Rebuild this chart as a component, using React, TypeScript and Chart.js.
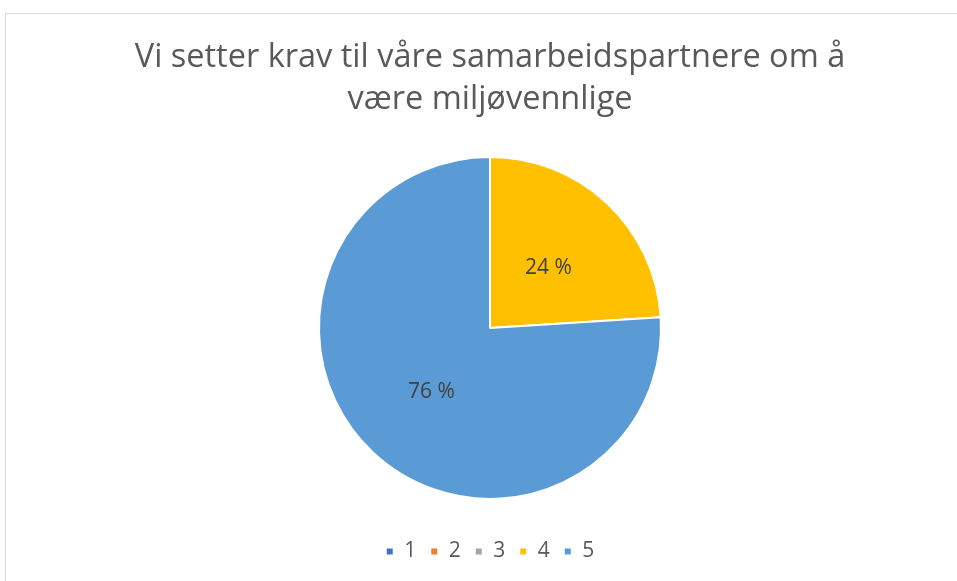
import React, { useEffect, useRef } from "react";
import { Chart, registerables } from "chart.js";

Chart.register(...registerables);

const titleLines = ["Vi setter krav til våre samarbeidspartnere om å", "være miljøvennlige"];
const categories = ["1", "2", "3", "4", "5"];
const percentValues = [0, 0, 0, 24, 76];
const sliceColors = ["#4472C4", "#ED7D31", "#A5A5A5", "#FFC000", "#5B9BD5"];

const FONT = "'Open Sans', Lato, sans-serif";

const dataLabelPlugin = {
  id: "dataLabels",
  afterDatasetsDraw(chart: any) {
    const ctx = chart.ctx;
    const meta = chart.getDatasetMeta(0);
    const values = chart.data.datasets[0].data as number[];
    ctx.save();
    ctx.font = `21px ${FONT}`;
    ctx.fillStyle = "#404040";
    ctx.textAlign = "center";
    ctx.textBaseline = "middle";
    meta.data.forEach((arc: any, i: number) => {
      const v = values[i];
      if (!v) return;
      const p = arc.tooltipPosition();
      ctx.fillText(`${v} %`, p.x, p.y + 2);
    });
    ctx.restore();
  },
};

export default function App() {
  const ref = useRef<HTMLCanvasElement | null>(null);
  useEffect(() => {
    if (!ref.current) return;
    const chart = new Chart(ref.current, {
      type: "pie",
      data: {
        labels: categories,
        datasets: [
          {
            data: percentValues,
            backgroundColor: sliceColors,
            borderColor: "#ffffff",
            borderWidth: 2,
            radius: 171,
          },
        ],
      },
      options: {
        animation: false,
        responsive: false,
        layout: { padding: { left: 23, right: 0, top: 0, bottom: 9 } },
        plugins: {
          title: {
            display: true,
            text: titleLines,
            color: "#595959",
            font: { family: FONT, size: 32.5, weight: "normal", lineHeight: 1.29 },
            padding: { top: 37, bottom: 8 },
          },
          legend: {
            position: "bottom",
            labels: {
              color: "#595959",
              font: { family: FONT, size: 21 },
              usePointStyle: true,
              pointStyle: "rect",
              boxWidth: 8,
              boxHeight: 8,
              padding: 14,
            },
          },
          tooltip: { enabled: false },
        },
      },
      plugins: [dataLabelPlugin],
    });
    return () => chart.destroy();
  }, []);
  return (
    <div style={{ position: "fixed", left: 0, top: 0, width: 957, height: 581, background: "#fff" }}>
      <div
        style={{
          position: "absolute",
          left: 5,
          top: 13,
          width: 970,
          height: 590,
          borderLeft: "1px solid #d9d9d9",
          borderTop: "1px solid #d9d9d9",
        }}
      />
      <canvas ref={ref} width={957} height={581} style={{ position: "absolute", left: 0, top: 0 }} />
    </div>
  );
}
